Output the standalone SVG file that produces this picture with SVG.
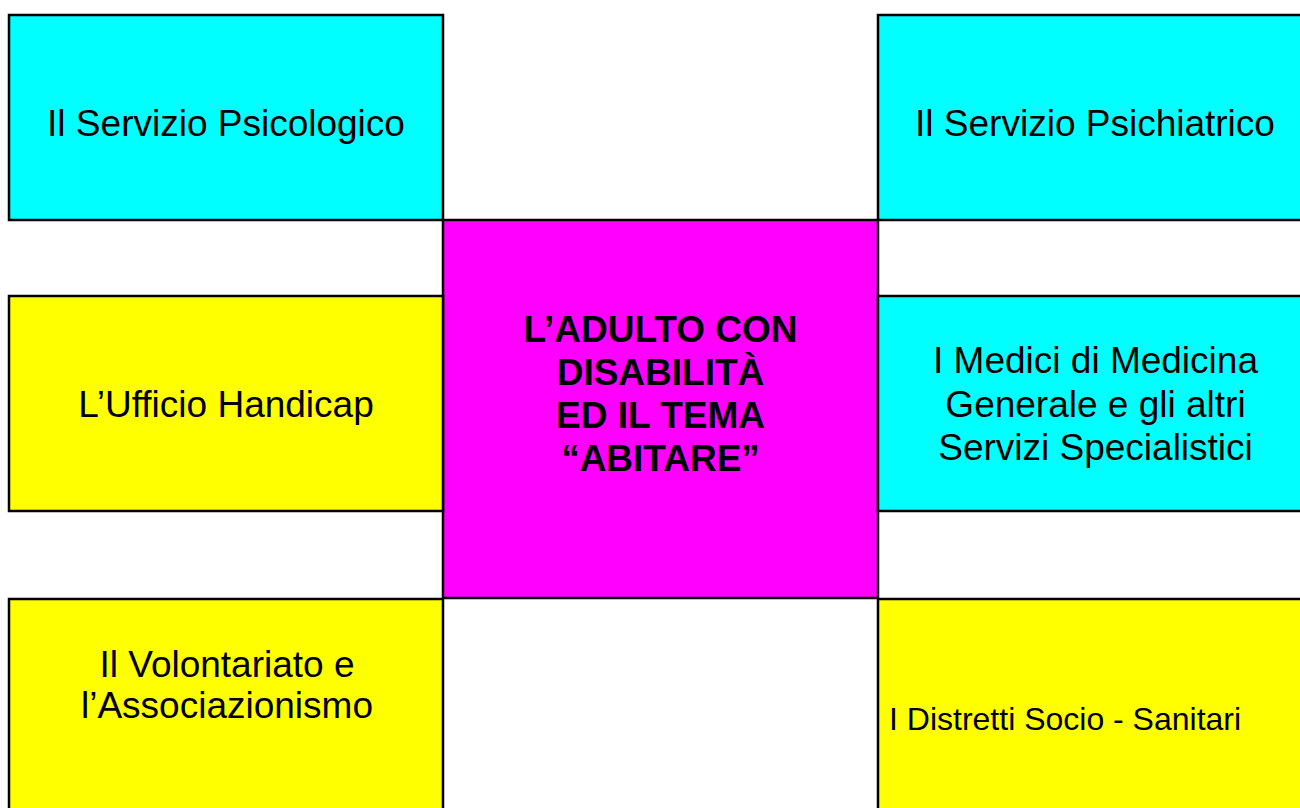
<svg xmlns="http://www.w3.org/2000/svg" width="1300" height="808" viewBox="0 0 1300 808">
<style>
.box{stroke:#000;stroke-width:2.5}
.cy{fill:#00ffff}
.ye{fill:#ffff00}
.mg{fill:#ff00ff}
text{font-family:"Liberation Sans",Arial,sans-serif;font-size:37px;fill:#000;text-anchor:middle}
.b{font-weight:bold}
</style>
<rect width="1300" height="808" fill="#fff"/>
<g id="connectors"></g>
<g id="psicologico">
<rect class="box cy" x="9" y="15" width="434" height="205"/>
<text x="226" y="136">Il Servizio Psicologico</text>
</g>
<g id="psichiatrico">
<rect class="box cy" x="878" y="15" width="440" height="205"/>
<text x="1095" y="136">Il Servizio Psichiatrico</text>
</g>
<g id="centro">
<rect class="box mg" x="443" y="220" width="435" height="378"/>
<text class="b" x="660.5" y="342">L’ADULTO CON</text>
<text class="b" x="660.5" y="385">DISABILITÀ</text>
<text class="b" x="660.5" y="428">ED IL TEMA</text>
<text class="b" x="660.5" y="471">“ABITARE”</text>
</g>
<g id="handicap">
<rect class="box ye" x="9" y="296" width="434" height="215"/>
<text x="226" y="417">L’Ufficio Handicap</text>
</g>
<g id="medici">
<rect class="box cy" x="878" y="296" width="440" height="215"/>
<text x="1095.5" y="373">I Medici di Medicina</text>
<text x="1095.5" y="417">Generale e gli altri</text>
<text x="1095.5" y="460">Servizi Specialistici</text>
</g>
<g id="volontariato">
<rect class="box ye" x="9" y="599" width="434" height="230"/>
<text x="227" y="677">Il Volontariato e</text>
<text x="227" y="718">l’Associazionismo</text>
</g>
<g id="distretti">
<rect class="box ye" x="878" y="599" width="440" height="230"/>
<text x="889" y="730" style="text-anchor:start;font-size:32px">I Distretti Socio - Sanitari</text>
</g>
</svg>
